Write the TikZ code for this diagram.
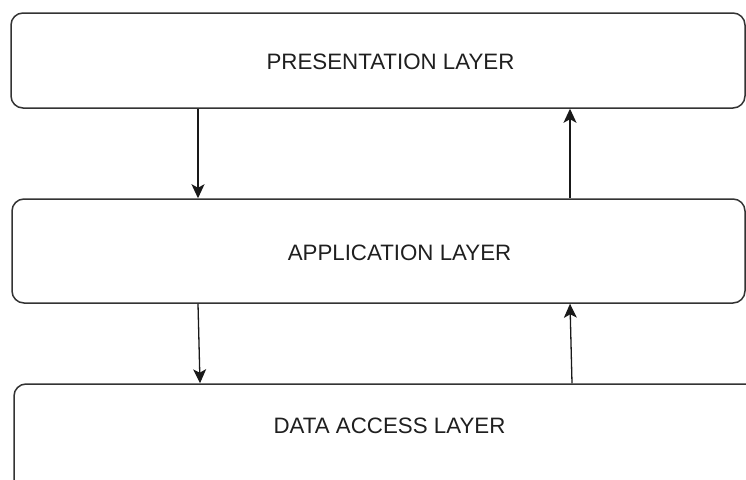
\documentclass[tikz,border=0pt]{standalone}
\usepackage{fontspec}
\setmainfont{Liberation Sans}
\usetikzlibrary{arrows.meta}
\begin{document}
\begin{tikzpicture}[x=1pt,y=-1pt,
  layerbox/.style={draw=black!80, line width=1.5pt, rounded corners=12pt, fill=white, inner sep=0pt},
  layertext/.style={font=\fontsize{22.3}{24}\selectfont, text=black!88, inner sep=0pt, anchor=center},
  arr/.style={draw=black!90, line width=1.3pt, -{Stealth[length=14pt,width=13pt,inset=3.5pt]}}]
\useasboundingbox (0,0) rectangle (746,479);
\clip (0,0) rectangle (746,479);
\fill[white] (0,0) rectangle (746,479);
\node[layerbox, minimum width=734pt, minimum height=95pt] (b1) at (378,60.5) {};
\node[layerbox, minimum width=733pt, minimum height=104pt] (b2) at (378.5,251) {};
\node[layerbox, minimum width=760pt, minimum height=110pt] (b3) at (394,439) {};
\node[layertext] (t1) at (390.5,62) {PRESENTATION LAYER};
\node[layertext] (t2) at (399.5,253) {APPLICATION LAYER};
\node[layertext] (t3) at (389.5,426) {DATA ACCESS LAYER};
\draw[arr] (b1.south -| 198,0) -- (b2.north -| 198,0);
\draw[arr] (b2.north -| 570,0) -- (b1.south -| 570,0);
\draw[arr] (b2.south -| 198,0) -- (b3.north -| 200,0);
\draw[arr] (b3.north -| 572,0) -- (b2.south -| 570,0);
\end{tikzpicture}
\end{document}
